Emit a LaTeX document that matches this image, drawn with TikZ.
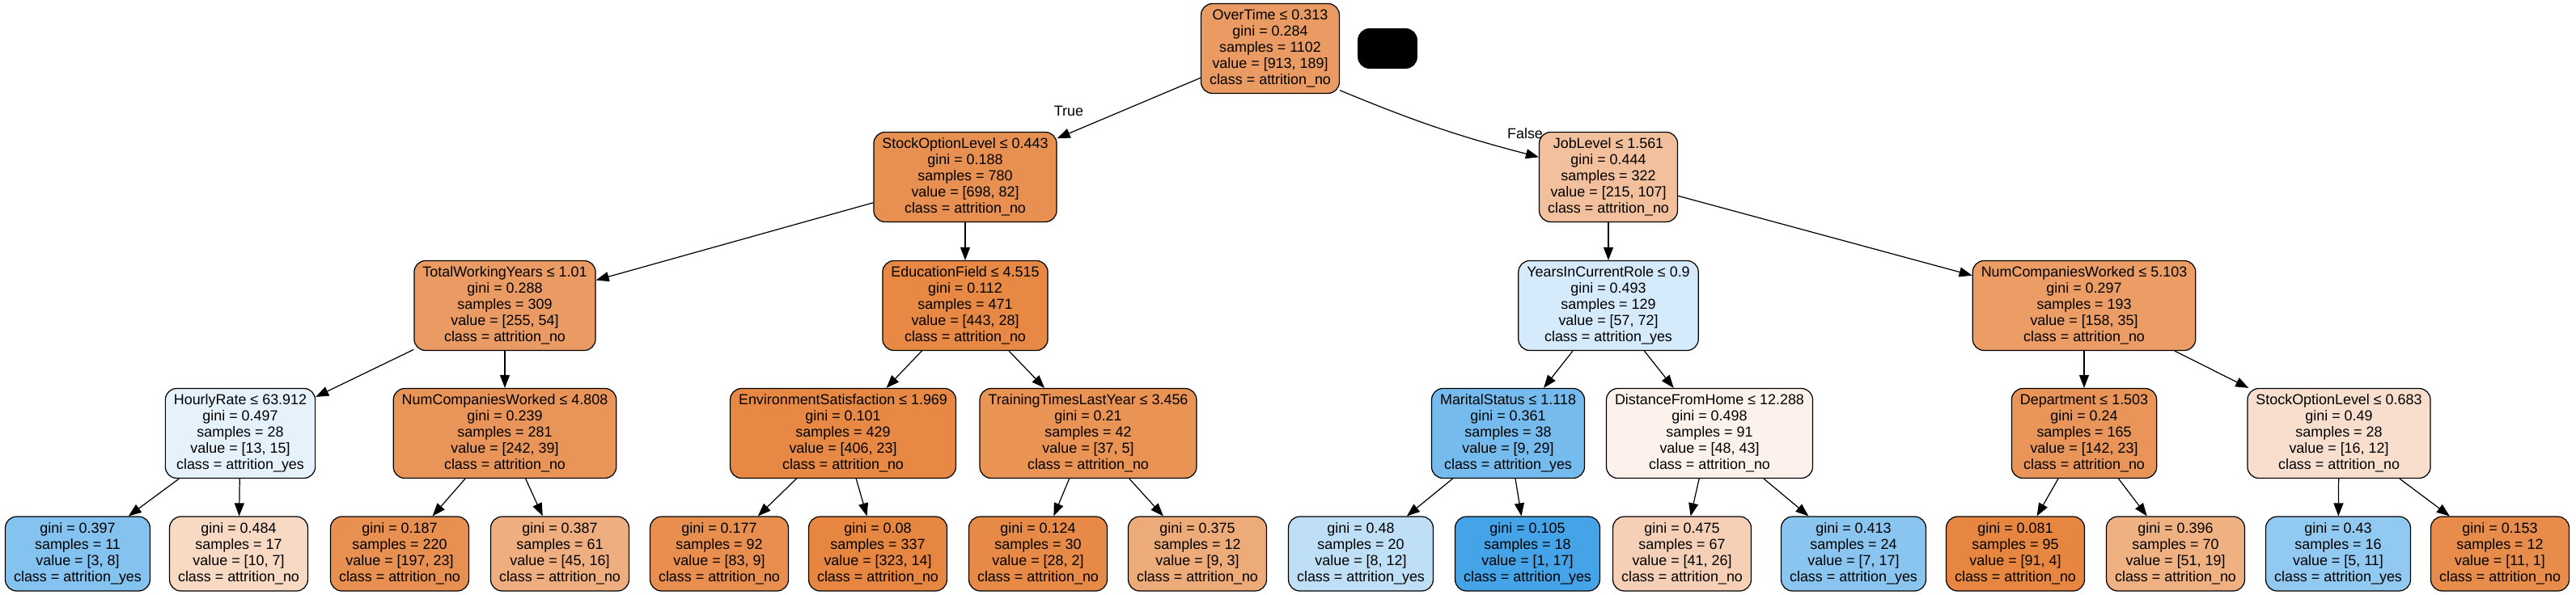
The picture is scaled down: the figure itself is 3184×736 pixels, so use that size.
\documentclass[tikz,border=0pt]{standalone}
\usepackage{fontspec}
\setmainfont{Liberation Sans}
\usetikzlibrary{arrows.meta}
\definecolor{clsno}{RGB}{229,129,57}
\definecolor{clsyes}{RGB}{57,157,229}

\begin{document}
\begin{tikzpicture}[x=0.02cm, y=-0.02cm,
        splitnode/.style={draw=black, line width=0.7pt, rounded corners=0.28cm, align=center,
            font=\fontsize{10.2}{11.4}\selectfont, inner xsep=0.21cm, inner ysep=0pt, minimum height=2.22cm},
        leafnode/.style={splitnode, minimum height=1.84cm},
        link/.style={-{Triangle[length=0.32cm, width=0.24cm]}, line width=0.7pt},
        lbl/.style={font=\fontsize{10.2}{11.4}\selectfont, inner sep=0pt}]
    \useasboundingbox[fill=white] (0,0) rectangle (3184,736);

    % depth 0
    \node[splitnode, fill=clsno!79] (root) at (1570,60) {OverTime ≤ 0.313\\gini = 0.284\\samples = 1102\\value = [913, 189]\\class = attrition\_no};
    \node[draw=black, fill=black, rounded corners=0.28cm, minimum width=1.46cm, minimum height=0.98cm] (blank) at (1715,60) {};

    % depth 1
    \node[splitnode, fill=clsno!88] (stock1) at (1193,219) {StockOptionLevel ≤ 0.443\\gini = 0.188\\samples = 780\\value = [698, 82]\\class = attrition\_no};
    \node[splitnode, fill=clsno!50] (joblvl) at (1988,219) {JobLevel ≤ 1.561\\gini = 0.444\\samples = 322\\value = [215, 107]\\class = attrition\_no};

    % depth 2
    \node[splitnode, fill=clsno!79] (totyears) at (624,378) {TotalWorkingYears ≤ 1.01\\gini = 0.288\\samples = 309\\value = [255, 54]\\class = attrition\_no};
    \node[splitnode, fill=clsno!94] (edufield) at (1193,378) {EducationField ≤ 4.515\\gini = 0.112\\samples = 471\\value = [443, 28]\\class = attrition\_no};
    \node[splitnode, fill=clsyes!21] (roleyears) at (1988,378) {YearsInCurrentRole ≤ 0.9\\gini = 0.493\\samples = 129\\value = [57, 72]\\class = attrition\_yes};
    \node[splitnode, fill=clsno!78] (numcomp1) at (2576,378) {NumCompaniesWorked ≤ 5.103\\gini = 0.297\\samples = 193\\value = [158, 35]\\class = attrition\_no};

    % depth 3
    \node[splitnode, fill=clsyes!13] (hourly) at (297,536) {HourlyRate ≤ 63.912\\gini = 0.497\\samples = 28\\value = [13, 15]\\class = attrition\_yes};
    \node[splitnode, fill=clsno!84] (numcomp2) at (624,536) {NumCompaniesWorked ≤ 4.808\\gini = 0.239\\samples = 281\\value = [242, 39]\\class = attrition\_no};
    \node[splitnode, fill=clsno!94] (envsat) at (1042,536) {EnvironmentSatisfaction ≤ 1.969\\gini = 0.101\\samples = 429\\value = [406, 23]\\class = attrition\_no};
    \node[splitnode, fill=clsno!86] (training) at (1345,536) {TrainingTimesLastYear ≤ 3.456\\gini = 0.21\\samples = 42\\value = [37, 5]\\class = attrition\_no};
    \node[splitnode, fill=clsyes!69] (marital) at (1864,536) {MaritalStatus ≤ 1.118\\gini = 0.361\\samples = 38\\value = [9, 29]\\class = attrition\_yes};
    \node[splitnode, fill=clsno!10] (distance) at (2113,536) {DistanceFromHome ≤ 12.288\\gini = 0.498\\samples = 91\\value = [48, 43]\\class = attrition\_no};
    \node[splitnode, fill=clsno!84] (dept) at (2576,536) {Department ≤ 1.503\\gini = 0.24\\samples = 165\\value = [142, 23]\\class = attrition\_no};
    \node[splitnode, fill=clsno!25] (stock2) at (2891,536) {StockOptionLevel ≤ 0.683\\gini = 0.49\\samples = 28\\value = [16, 12]\\class = attrition\_no};

    % leaves
    \node[leafnode, fill=clsyes!62] (leafa) at (96,685) {gini = 0.397\\samples = 11\\value = [3, 8]\\class = attrition\_yes};
    \node[leafnode, fill=clsno!30] (leafb) at (295,685) {gini = 0.484\\samples = 17\\value = [10, 7]\\class = attrition\_no};
    \node[leafnode, fill=clsno!88] (leafc) at (494,685) {gini = 0.187\\samples = 220\\value = [197, 23]\\class = attrition\_no};
    \node[leafnode, fill=clsno!64] (leafd) at (692,685) {gini = 0.387\\samples = 61\\value = [45, 16]\\class = attrition\_no};
    \node[leafnode, fill=clsno!89] (leafe) at (889,685) {gini = 0.177\\samples = 92\\value = [83, 9]\\class = attrition\_no};
    \node[leafnode, fill=clsno!96] (leaff) at (1085,685) {gini = 0.08\\samples = 337\\value = [323, 14]\\class = attrition\_no};
    \node[leafnode, fill=clsno!93] (leafg) at (1283,685) {gini = 0.124\\samples = 30\\value = [28, 2]\\class = attrition\_no};
    \node[leafnode, fill=clsno!67] (leafh) at (1480,685) {gini = 0.375\\samples = 12\\value = [9, 3]\\class = attrition\_no};
    \node[leafnode, fill=clsyes!33] (leafi) at (1682,685) {gini = 0.48\\samples = 20\\value = [8, 12]\\class = attrition\_yes};
    \node[leafnode, fill=clsyes!94] (leafj) at (1888,685) {gini = 0.105\\samples = 18\\value = [1, 17]\\class = attrition\_yes};
    \node[leafnode, fill=clsno!37] (leafk) at (2079,685) {gini = 0.475\\samples = 67\\value = [41, 26]\\class = attrition\_no};
    \node[leafnode, fill=clsyes!59] (leafl) at (2291,685) {gini = 0.413\\samples = 24\\value = [7, 17]\\class = attrition\_yes};
    \node[leafnode, fill=clsno!96] (leafm) at (2491,685) {gini = 0.081\\samples = 95\\value = [91, 4]\\class = attrition\_no};
    \node[leafnode, fill=clsno!63] (leafn) at (2689,685) {gini = 0.396\\samples = 70\\value = [51, 19]\\class = attrition\_no};
    \node[leafnode, fill=clsyes!55] (leafo) at (2890,685) {gini = 0.43\\samples = 16\\value = [5, 11]\\class = attrition\_yes};
    \node[leafnode, fill=clsno!91] (leafp) at (3090,685) {gini = 0.153\\samples = 12\\value = [11, 1]\\class = attrition\_no};

    % branches
    \draw[link] (root) -- (stock1);
    \draw[link] (root.-31) to[bend right=4] (joblvl.164);
    \node[lbl] (truelbl) at (1321,137) {True};
    \node[lbl] (falselbl) at (1885,165) {False};
    \draw[link] (stock1) -- (totyears);
    \draw[link] (stock1) -- (edufield);
    \draw[link] (joblvl) -- (roleyears);
    \draw[link] (joblvl) -- (numcomp1);
    \draw[link] (totyears) -- (hourly);
    \draw[link] (totyears) -- (numcomp2);
    \draw[link] (edufield) -- (envsat);
    \draw[link] (edufield) -- (training);
    \draw[link] (roleyears) -- (marital);
    \draw[link] (roleyears) -- (distance);
    \draw[link] (numcomp1) -- (dept);
    \draw[link] (numcomp1) -- (stock2);
    \draw[link] (hourly) -- (leafa);
    \draw[link] (hourly) -- (leafb);
    \draw[link] (numcomp2) -- (leafc);
    \draw[link] (numcomp2) -- (leafd);
    \draw[link] (envsat) -- (leafe);
    \draw[link] (envsat) -- (leaff);
    \draw[link] (training) -- (leafg);
    \draw[link] (training) -- (leafh);
    \draw[link] (marital) -- (leafi);
    \draw[link] (marital) -- (leafj);
    \draw[link] (distance) -- (leafk);
    \draw[link] (distance) -- (leafl);
    \draw[link] (dept) -- (leafm);
    \draw[link] (dept) -- (leafn);
    \draw[link] (stock2) -- (leafo);
    \draw[link] (stock2) -- (leafp);
\end{tikzpicture}
\end{document}
